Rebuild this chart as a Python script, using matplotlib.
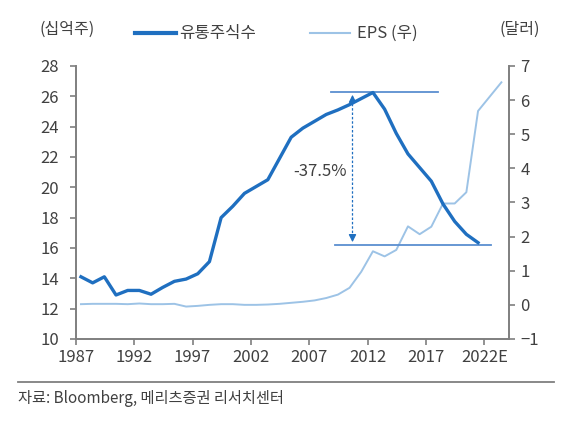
import numpy as np
import matplotlib
matplotlib.use('Agg')
from matplotlib import pyplot as plt
from matplotlib.lines import Line2D

plt.rcParams['font.family'] = ['Noto Sans CJK KR', 'DejaVu Sans']

# 데이터
years_shares = list(range(1987, 2022))
shares = [14.1, 13.7, 14.1, 12.9, 13.2, 13.2, 12.95, 13.4, 13.8, 13.95,
          14.3, 15.1, 18.0, 18.75, 19.6, 20.05, 20.5, 21.9, 23.3, 23.9,
          24.35, 24.8, 25.1, 25.45, 25.85, 26.25, 25.15, 23.55, 22.2, 21.3,
          20.4, 18.9, 17.75, 16.9, 16.35]

years_eps = list(range(1987, 2024))
eps = [0.02, 0.03, 0.03, 0.03, 0.02, 0.04, 0.02, 0.02, 0.03, -0.05,
       -0.03, 0.0, 0.02, 0.02, 0.0, 0.0, 0.01, 0.03, 0.06, 0.09,
       0.13, 0.2, 0.3, 0.5, 0.97, 1.57, 1.42, 1.61, 2.3, 2.07,
       2.29, 2.97, 2.97, 3.3, 5.68, 6.1, 6.52]

xticks = [1987, 1992, 1997, 2002, 2007, 2012, 2017, 2022]
xtick_labels = ['1987', '1992', '1997', '2002', '2007', '2012', '2017', '2022E']

peak_val = 26.28
trough_val = 16.2
drop_label = '-37.5%'

dark_blue = '#1f6fc0'
light_blue = '#9dc3e6'
mid_blue = '#5b8fd0'
axis_gray = '#7f7f7f'
text_gray = '#404040'
offset = 0.45   # 점들이 연도 중앙에 찍혀 있음

fig = plt.figure(figsize=(5.78, 4.24), dpi=100)
ax = fig.add_axes([0.131, 0.2005, 0.750, 0.644])
ax2 = ax.twinx()

ax.plot(np.array(years_shares) + offset, shares, color=dark_blue, lw=2.4, zorder=5,
        solid_joinstyle='round')
ax2.plot(np.array(years_eps) + offset, eps, color=light_blue, lw=1.4, zorder=3)
ax.set_zorder(ax2.get_zorder() + 1)
ax.patch.set_visible(False)

ax.set_xlim(1987, 2024.12)
ax.set_ylim(10, 28)
ax2.set_ylim(-1, 7)
ax.set_yticks(range(10, 29, 2))
ax2.set_yticks(range(-1, 8))
ax.set_xticks(xticks)
ax.set_xticklabels(xtick_labels)

for a in (ax, ax2):
    for s in a.spines.values():
        s.set_visible(False)
ax.spines['left'].set_visible(True)
ax.spines['bottom'].set_visible(True)
ax2.spines['right'].set_visible(True)
for s in (ax.spines['left'], ax.spines['bottom'], ax2.spines['right']):
    s.set_color(axis_gray)
    s.set_linewidth(1.4)

ax.tick_params(axis='both', direction='out', length=4, width=1.2, color=axis_gray,
               labelsize=12, labelcolor=text_gray, pad=3)
ax2.tick_params(axis='y', direction='out', length=4, width=1.2, color=axis_gray,
                labelsize=12, labelcolor=text_gray, pad=4)
ax.tick_params(axis='y', pad=8)

# 고점/저점 표시선
ax.plot([2008.9, 2018.05], [peak_val, peak_val], color=mid_blue, lw=1.3, zorder=4)
ax.plot([2009.2, 2022.6], [trough_val, trough_val], color=mid_blue, lw=1.3, zorder=4)
arrow_x = 2010.7
ax.plot([arrow_x, arrow_x], [trough_val + 0.5, peak_val - 0.5], color=dark_blue,
        lw=0.9, ls=(0, (2, 1.5)), zorder=4)
ax.annotate('', xy=(arrow_x, peak_val), xytext=(arrow_x, peak_val - 0.8),
            arrowprops=dict(arrowstyle='-|>', color=dark_blue, lw=0.9, mutation_scale=11))
ax.annotate('', xy=(arrow_x, trough_val), xytext=(arrow_x, trough_val + 0.8),
            arrowprops=dict(arrowstyle='-|>', color=dark_blue, lw=0.9, mutation_scale=11))
ax.text(2007.9, 21.05, drop_label, ha='center', va='center', fontsize=12, color=text_gray)

# 범례 / 단위
fig.text(0.069, 0.93, '(십억주)', fontsize=11.5, color=text_gray, va='center')
fig.text(0.865, 0.93, '(달러)', fontsize=11.5, color=text_gray, va='center')
fig.add_artist(Line2D([0.234, 0.304], [0.921, 0.921], color=dark_blue, lw=3))
fig.text(0.31, 0.921, '유통주식수', fontsize=12, color=text_gray, va='center')
fig.add_artist(Line2D([0.536, 0.606], [0.921, 0.921], color=light_blue, lw=1.5))
fig.text(0.617, 0.921, 'EPS (우)', fontsize=12, color=text_gray, va='center')

# 출처
fig.add_artist(Line2D([0.031, 0.958], [0.0998, 0.0998], color=axis_gray, lw=1.3))
fig.text(0.031, 0.061, '자료: Bloomberg, 메리츠증권 리서치센터', fontsize=11,
         color=text_gray, va='center')

fig.savefig('out.png', dpi=100, facecolor='white')
